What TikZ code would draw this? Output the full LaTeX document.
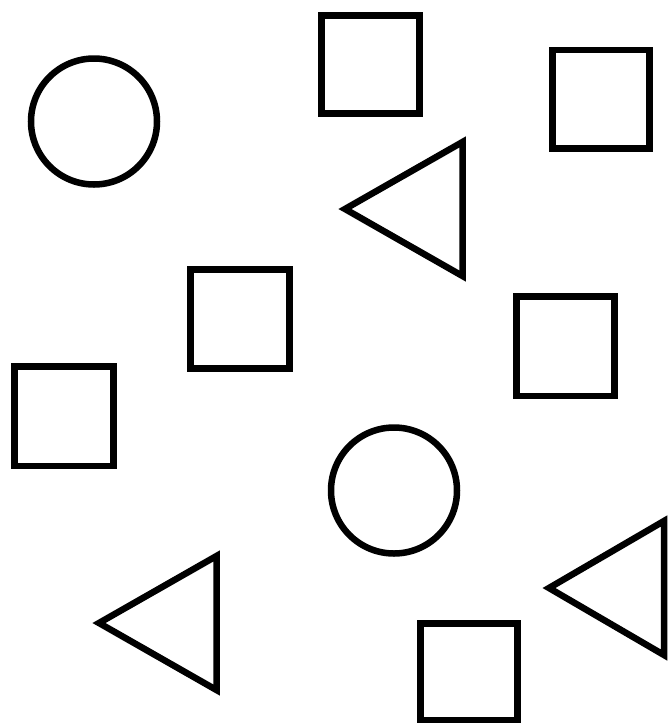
\documentclass[tikz,border=0pt]{standalone}
\begin{document}
\begin{tikzpicture}[x=1pt,y=-1pt,outl/.style={draw=black,line width=6.5pt,line join=miter}]
\useasboundingbox[fill=white] (0,0) rectangle (668,724);
% circles
\draw[outl] (94,121.5) circle[radius=63];
\draw[outl] (394,490.5) circle[radius=63];
% squares
\draw[outl] (321.5,15.5) rectangle (419.5,113.5);
\draw[outl] (552.5,50) rectangle (649.5,148.5);
\draw[outl] (190.5,269.5) rectangle (289.5,368.5);
\draw[outl] (516.5,296.5) rectangle (614.5,396);
\draw[outl] (14.5,366.5) rectangle (113.5,466);
\draw[outl] (420.5,623.5) rectangle (517.5,720);
% triangles
\draw[outl] (345,209) -- (462.5,142) -- (462.5,276) -- cycle;
\draw[outl] (99,623) -- (216.5,556) -- (216.5,690) -- cycle;
\draw[outl] (549,588) -- (664,521) -- (664,655) -- cycle;
\end{tikzpicture}
\end{document}
